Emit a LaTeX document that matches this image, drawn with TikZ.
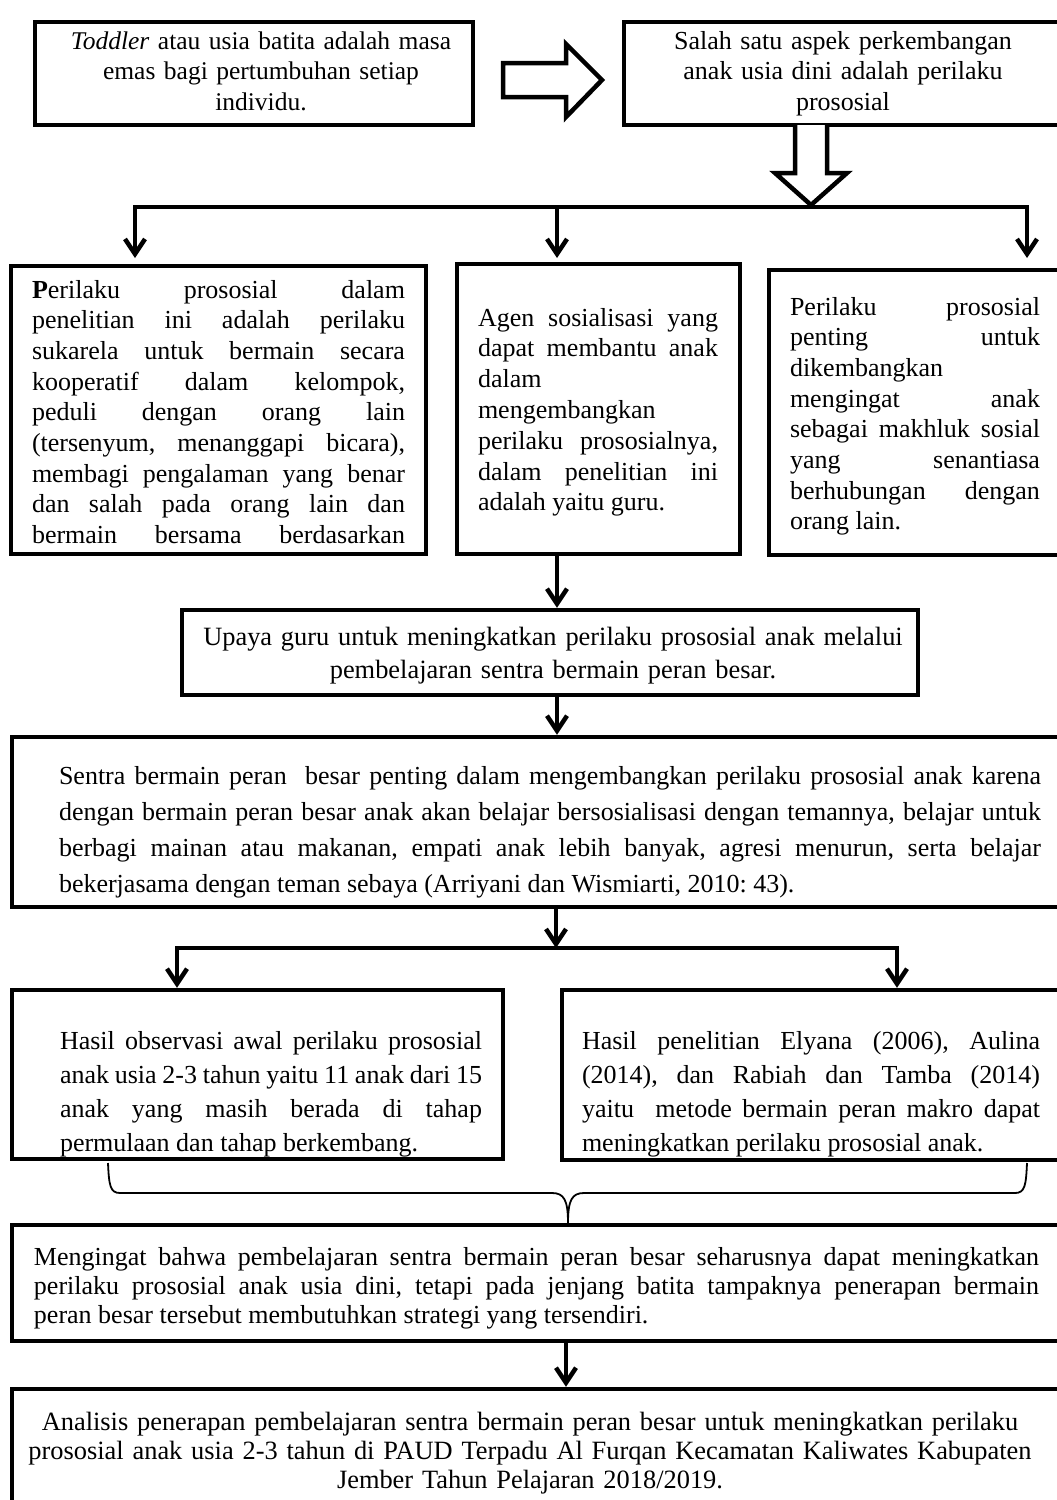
\documentclass[tikz,border=0pt]{standalone}
\usepackage{fontspec}
\setmainfont{Liberation Serif}
\usetikzlibrary{arrows.meta,fit}
\tolerance=10000
\hbadness=10000
\frenchspacing
\begin{document}
\begin{tikzpicture}[x=1pt,y=-1pt,
  box/.style={draw, line width=4.5pt, inner sep=0pt, line join=miter},
  conn/.style={line width=4.5pt, line cap=rect, line join=miter},
  arr/.style={conn, -{Straight Barb[length=15pt,width=20pt,line cap=butt]}},
  hollow/.style={draw, fill=white, line width=4.5pt, line join=miter},
  brace/.style={line width=1.8pt},
  txt/.style={inner sep=0pt, outer sep=0pt, anchor=base west, align=justify},
  ctxt/.style={inner sep=0pt, outer sep=0pt, anchor=base},
  fs/.style={font=\fontsize{26}{#1}\selectfont},
  fsa/.style={font=\fontsize{25.5}{#1}\selectfont},
  fsb/.style={font=\fontsize{26.4}{#1}\selectfont}
]
\useasboundingbox (0,0) rectangle (1057,1500);
\clip (0,0) rectangle (1057,1500);

% boxes
\node[box, fit={(35,22) (473,125)}] (A) {};
\node[box, fit={(624,22) (1075,125)}] (B) {};
\node[box, fit={(11,266) (426,554)}] (C1) {};
\node[box, fit={(457,264) (740,554)}] (C2) {};
\node[box, fit={(769,270) (1075,555)}] (C3) {};
\node[box, fit={(182,610) (918,695)}] (D) {};
\node[box, fit={(12,737) (1075,907)}] (E) {};
\node[box, fit={(12,990) (503,1159)}] (F1) {};
\node[box, fit={(562,990) (1075,1160)}] (F2) {};
\node[box, fit={(12,1225) (1075,1341)}] (G) {};
\node[box, fit={(12,1389) (1075,1525)}] (H) {};

% texts
\node[ctxt, fsa=30.5, text width=440pt] (tA) at (261,49)
  {\centering\textit{Toddler} atau usia batita adalah masa\\ emas bagi pertumbuhan setiap\\ individu.\par};
\node[ctxt, fs=30.5, text width=430pt] (tB) at (843,49)
  {\centering Salah satu aspek perkembangan\\ anak usia dini adalah perilaku\\ prososial\par};

\begin{scope}
\clip (11,266) rectangle (426,548);
\node[txt, fs=30.7, text width=373pt] (tC1) at (32,298)
  {\textbf{P}erilaku prososial dalam\linebreak
   penelitian ini adalah perilaku\linebreak
   sukarela untuk bermain secara\linebreak
   kooperatif dalam kelompok,\linebreak
   peduli dengan orang lain\linebreak
   (tersenyum, menanggapi bicara),\linebreak
   membagi pengalaman yang benar\linebreak
   dan salah pada orang lain dan\linebreak
   bermain bersama berdasarkan\linebreak};
\end{scope}

\node[txt, fs=30.8, text width=240pt] (tC2) at (478,326)
  {Agen sosialisasi yang\linebreak
   dapat membantu anak\linebreak
   dalam\\
   mengembangkan\\
   perilaku prososialnya,\linebreak
   dalam penelitian ini\linebreak
   adalah yaitu guru.};

\node[txt, fs=30.7, text width=250pt] (tC3) at (790,315)
  {Perilaku prososial\linebreak
   penting untuk\linebreak
   dikembangkan\\
   mengingat anak\linebreak
   sebagai makhluk sosial\linebreak
   yang senantiasa\linebreak
   berhubungan dengan\linebreak
   orang lain.};

\node[ctxt, fsb=33, text width=730pt] (tD) at (553,645)
  {\centering Upaya guru untuk meningkatkan perilaku prososial anak melalui\\
   pembelajaran sentra bermain peran besar.\par};

\node[txt, fs=36, text width=982pt] (tE) at (59,784)
  {Sentra bermain peran\ \ besar penting dalam mengembangkan perilaku prososial anak karena\linebreak
   dengan bermain peran besar anak akan belajar bersosialisasi dengan temannya, belajar untuk\linebreak
   berbagi mainan atau makanan, empati anak lebih banyak, agresi menurun, serta belajar\linebreak
   bekerjasama dengan teman sebaya (Arriyani dan Wismiarti, 2010: 43).};

\node[txt, fs=34, text width=422pt] (tF1) at (60,1049)
  {Hasil observasi awal perilaku prososial\linebreak
   anak usia 2-3 tahun yaitu 11 anak dari 15\linebreak
   anak yang masih berada di tahap\linebreak
   permulaan dan tahap berkembang.};

\node[txt, fs=34, text width=458pt] (tF2) at (582,1049)
  {Hasil penelitian Elyana (2006), Aulina\linebreak
   (2014), dan Rabiah dan Tamba (2014)\linebreak
   yaitu\ \ metode bermain peran makro dapat\linebreak
   meningkatkan perilaku prososial anak.};

\node[txt, fs=29, text width=1005pt] (tG) at (34,1265)
  {Mengingat bahwa pembelajaran sentra bermain peran besar seharusnya dapat meningkatkan\linebreak
   perilaku prososial anak usia dini, tetapi pada jenjang batita tampaknya penerapan bermain\linebreak
   peran besar tersebut membutuhkan strategi yang tersendiri.};

\node[ctxt, fsb=29, text width=1040pt] (tH) at (530,1430)
  {\centering Analisis penerapan pembelajaran sentra bermain peran besar untuk meningkatkan perilaku\\
   prososial anak usia 2-3 tahun di PAUD Terpadu Al Furqan Kecamatan Kaliwates Kabupaten\\
   Jember Tahun Pelajaran 2018/2019.\par};

% hollow arrows
\draw[hollow] (503,63) -- (566,63) -- (566,44) -- (602,80) -- (566,117) -- (566,97) -- (503,97) -- cycle;
\draw[hollow] (795,125) -- (795,173) -- (775,173) -- (811,205) -- (847,173) -- (827,173) -- (827,125);

% first distribution bar
\coordinate (b1l) at (135,207);
\coordinate (b1m) at (557,207);
\coordinate (b1r) at (1027,207);
\coordinate (t1l) at (135,258);
\coordinate (t1m) at (557,258);
\coordinate (t1r) at (1027,258);
\draw[arr] (b1r) -- (b1l) -- (t1l);
\draw[arr] (b1m) -- (t1m);
\draw[arr] (b1r) -- (t1r);

% middle chain
\coordinate (mx) at (557,0);
\draw[arr] (mx |- C2.south) -- (mx |- D.north);
\draw[arr] (mx |- D.south) -- (mx |- E.north);

% second distribution bar
\coordinate (b2l) at (177,948);
\coordinate (b2m) at (556,948);
\coordinate (b2r) at (897,948);
\draw[arr] (b2m |- E.south) -- (b2m);
\draw[arr] (b2r) -- (b2l) -- (b2l |- F1.north);
\draw[arr] (b2r) -- (b2r |- F2.north);

% brace
\coordinate (brl) at (108,1163);
\coordinate (brr) at (1027,1163);
\coordinate (brm) at (568,1223);
\draw[brace] (brl) .. controls (109,1185) and (110,1193) .. (120,1193)
  -- (552,1193) .. controls (564,1193) and (568,1200) .. (brm);
\draw[brace] (brr) .. controls (1026,1185) and (1025,1193) .. (1015,1193)
  -- (584,1193) .. controls (572,1193) and (568,1200) .. (brm);

% last arrow
\coordinate (gx) at (566,0);
\draw[arr] (gx |- G.south) -- (gx |- H.north);
\end{tikzpicture}
\end{document}
